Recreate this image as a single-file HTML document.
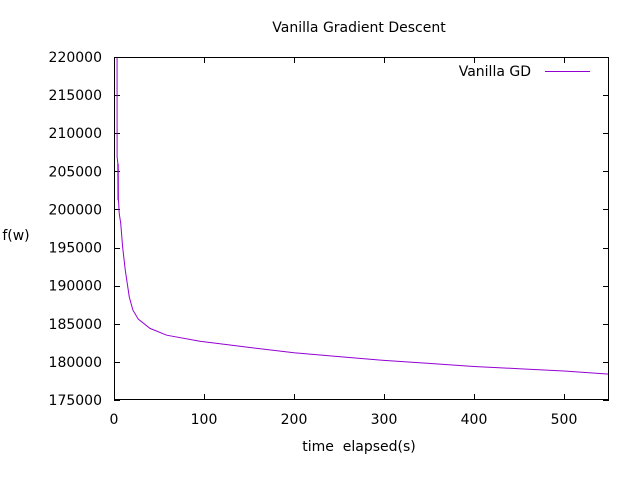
<!DOCTYPE html>
<html><head><meta charset="utf-8"><style>
body{margin:0;background:#fff;}
svg text{font-family:"DejaVu Sans","Liberation Sans",sans-serif;font-size:14px;fill:#000;white-space:pre;}
</style></head><body>
<svg width="640" height="480">
<text x="359" y="32" text-anchor="middle">Vanilla Gradient Descent</text>
<text x="16" y="240" text-anchor="middle">f(w)</text>
<text x="359" y="451" text-anchor="middle" xml:space="preserve">time  elapsed(s)</text>
<g id="ticks"></g>
<clipPath id="clip"><rect x="114" y="57" width="495" height="343"/></clipPath>
<path id="series" clip-path="url(#clip)" fill="none" stroke="#9400d3" stroke-width="1"/>
<rect x="114.5" y="57.5" width="494" height="342" fill="none" stroke="#000"/>
<text x="531" y="76" text-anchor="end">Vanilla GD</text>
<line x1="545" y1="71.5" x2="590" y2="71.5" stroke="#9400d3"/>
</svg>
<script>
const times=[3.3,3.4,4.2,4.5,4.7,4.9,5.2,5.8,7.4,9.6,12.6,17,21,27,40,58.5,95.5,150,200,250,300,350,400,450,500,550];
const values=[240000,206900,206100,201200,206000,201200,200800,199500,198200,195100,192000,188500,186800,185600,184400,183500,182700,181900,181200,180700,180200,179800,179400,179100,178800,178400];
const xTicks=[0,100,200,300,400,500];
const yTicks=[175000,180000,185000,190000,195000,200000,205000,210000,215000,220000];
const X0=114,X1=609,Y0=400,Y1=57;
const sx=v=>X0+(v-0)/(550-0)*(X1-X0);
const sy=v=>Y0-(v-175000)/(220000-175000)*(Y0-Y1);
const NS="http://www.w3.org/2000/svg";
const g=document.getElementById('ticks');
function mk(t,a){const e=document.createElementNS(NS,t);for(const k in a)e.setAttribute(k,a[k]);g.appendChild(e);return e;}
xTicks.forEach(v=>{const x=Math.round(sx(v))+0.5;
 const l1=mk('line',{x1:x,y1:400,x2:x,y2:394,stroke:'#000'});
 
 
 const l2=mk('line',{x1:x,y1:57,x2:x,y2:63,stroke:'#000'});
 
 
 const t=mk('text',{x:sx(v),y:424,'text-anchor':'middle'});t.textContent=v;
 
 
});
yTicks.forEach(v=>{const y=Math.round(sy(v))+0.5;
 const l1=mk('line',{x1:114,y1:y,x2:120,y2:y,stroke:'#000'});
 
 
 const l2=mk('line',{x1:609,y1:y,x2:603,y2:y,stroke:'#000'});
 
 
 const t=mk('text',{x:102,y:sy(v)+5,'text-anchor':'end'});t.textContent=v;
 
 
});
document.getElementById('series').setAttribute('d',times.map((t,i)=>(i?'L':'M')+sx(t).toFixed(1)+','+sy(values[i]).toFixed(1)).join(''));
</script>
</body></html>
